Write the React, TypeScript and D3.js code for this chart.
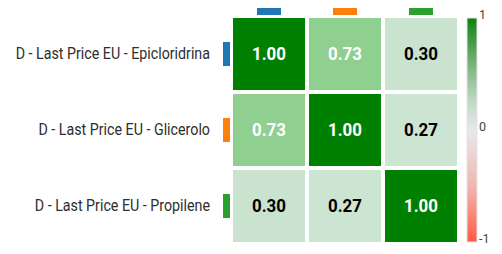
import React from "react";
import * as d3 from "d3";

const labels = [
  "D - Last Price EU - Epicloridrina",
  "D - Last Price EU - Glicerolo",
  "D - Last Price EU - Propilene",
];
const seriesColors = ["#1f77b4", "#ff7f0e", "#2ca02c"];
const rowEpicloridrina = [1.0, 0.73, 0.3];
const rowGlicerolo = [0.73, 1.0, 0.27];
const rowPropilene = [0.3, 0.27, 1.0];
const matrix = [rowEpicloridrina, rowGlicerolo, rowPropilene];
const colorbarTicks = [1, 0, -1];

const cellColor = d3
  .scaleLinear<string>()
  .domain([-1, -0.5, 0, 0.3, 0.73, 1])
  .range(["#ff5a45", "#f2b3ac", "#e8e8ec", "#c9e3cf", "#8fcf8f", "#008000"]);

const barStops: [number, string][] = [
  [1, "#0d830d"],
  [0.75, "#4f9f4f"],
  [0.5, "#8cbd8f"],
  [0.25, "#c2d9c6"],
  [0, "#e8e8ec"],
  [-0.5, "#f1b6af"],
  [-1, "#ff5a45"],
];

export default function App() {
  const W = 502;
  const H = 254;
  const idx = d3.range(labels.length);
  const x = d3.scaleBand<number>().domain(idx).range([233, 457]).paddingInner(4 / 76);
  const y = d3.scaleBand<number>().domain(idx).range([18, 242]).paddingInner(4 / 76);
  const cb = d3.scaleLinear().domain([1, -1]).range([18, 242]);
  const cbX = 467;
  const cbW = 10;
  const sx = 0.88;

  return (
    <svg
      width={W}
      height={H}
      style={{ position: "absolute", left: 0, top: 0, background: "#fff" }}
      fontFamily="Roboto, sans-serif"
    >
      <defs>
        <linearGradient id="cbgrad" x1="0" y1="0" x2="0" y2="1">
          {barStops.map(([v, c], i) => (
            <stop key={i} offset={(1 - v) / 2} stopColor={c} />
          ))}
        </linearGradient>
      </defs>
      {idx.map((j) => (
        <rect
          key={"t" + j}
          x={x(j)! + x.bandwidth() / 2 - 12}
          y={8}
          width={24}
          height={7}
          fill={seriesColors[j]}
        />
      ))}
      {idx.map((i) => (
        <g key={"l" + i}>
          <rect
            x={223}
            y={y(i)! + y.bandwidth() / 2 - 12}
            width={7}
            height={24}
            fill={seriesColors[i]}
          />
          <text
            transform={`translate(210,${y(i)! + y.bandwidth() / 2}) scale(${sx},1)`}
            textAnchor="end"
            dominantBaseline="central"
            fontSize={16.2}
            fill="#2e2e2e"
          >
            {labels[i]}
          </text>
        </g>
      ))}
      {matrix.map((row, i) =>
        row.map((v, j) => (
          <g key={i + "-" + j}>
            <rect
              x={x(j)}
              y={y(i)}
              width={x.bandwidth()}
              height={y.bandwidth()}
              fill={cellColor(v)}
            />
            <text
              transform={`translate(${x(j)! + x.bandwidth() / 2},${y(i)! + y.bandwidth() / 2}) scale(0.94,1)`}
              textAnchor="middle"
              dominantBaseline="central"
              fontSize={18}
              fontWeight="bold"
              fill={v >= 0.5 ? "#fff" : "#000"}
            >
              {v.toFixed(2)}
            </text>
          </g>
        ))
      )}
      <rect
        x={cbX}
        y={cb(1)}
        width={cbW}
        height={cb(-1) - cb(1)}
        fill="url(#cbgrad)"
        stroke="#e4e4e4"
        strokeWidth={1}
      />
      {colorbarTicks.map((t) => (
        <text key={"c" + t} x={479} y={cb(t) + 1} fontSize={12.5} fill="#444">
          {t}
        </text>
      ))}
    </svg>
  );
}
